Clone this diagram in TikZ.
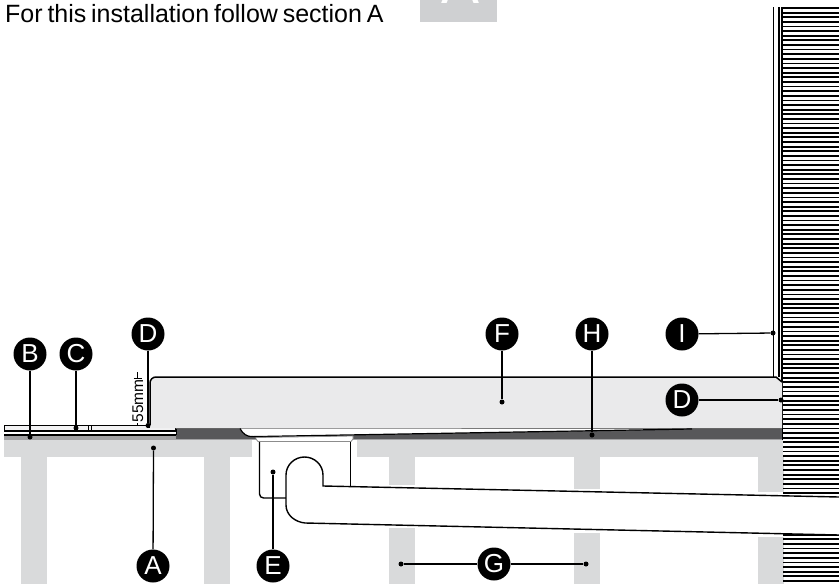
\documentclass[tikz,border=0pt]{standalone}
\usepackage{fontspec}
\setmainfont{Liberation Sans}
\definecolor{joist}{HTML}{D9DADB}
\definecolor{tray}{HTML}{EAEAEB}
\definecolor{dark}{HTML}{58585A}
\definecolor{bed}{HTML}{A2A2A4}
\definecolor{badge}{HTML}{CFD0D2}
\tikzset{
  lbl/.style={circle,fill=black,minimum size=33pt,inner sep=0pt,text=white,font=\fontsize{26}{26}\selectfont},
  lead/.style={draw=black,line width=1.3pt},
  tip/.style={circle,fill=black,minimum size=5pt,inner sep=0pt},
  outl/.style={draw=black,line width=1.4pt}
}
\begin{document}
\begin{tikzpicture}[x=1pt,y=-1pt]
\useasboundingbox (0,0) rectangle (839,584);
% title
\node[anchor=base west,inner sep=0pt,font=\fontsize{25}{25}\selectfont] (title) at (5,22.6) {\spaceskip=4.8pt For this installation follow section A};
\begin{scope}
\clip (420,0) rectangle (497,22);
\fill[badge] (420,0) rectangle (497,22);
\node[anchor=base,inner sep=0pt,text=white,font=\fontsize{57}{57}\selectfont] (sect) at (461,3.5) {A};
\end{scope}
% joists
\fill[joist] (4,440) rectangle (252,457);
\fill[joist] (357,440) rectangle (783,457);
\fill[joist] (21,457) rectangle (47,584);
\fill[joist] (204,457) rectangle (230,584);
\foreach \x/\a/\b in {389/485/528,574/489/533,758/492/537}{
  \fill[joist] (\x,457) rectangle (\x+25.5,\a);
  \fill[joist] (\x,\b) rectangle (\x+25.5,584);
}
% wall hatch
\foreach \i in {0,...,125}{
  \draw[black,line width=1.8pt] (783,8+\i*4.62) -- (839,8+\i*4.62);
}
\draw[black,line width=1.5pt] (773.5,7) -- (773.5,377);
\draw[black,line width=1.5pt] (779,7) -- (779,377);
\draw[black,line width=1.8pt] (781.8,7) -- (781.8,440);
% bed layers
\fill[dark] (176,428) rectangle (782,439.5);
\fill[bed] (176,439) rectangle (782,440);
\fill[bed] (4,435) rectangle (176,440);
\fill[white] (4,431) rectangle (176,435);
\draw[black,line width=1.1pt] (4,435) -- (176,435);
\draw[black,line width=1pt] (176,431) -- (176,435);
% tile
\draw[fill=tray!60!white,draw=black,line width=1.1pt] (4.5,425.5) rectangle (176,431);
\draw[black,line width=.6pt] (88.5,425.5) -- (88.5,431) (91.5,425.5) -- (91.5,431);
\fill[black] (147,425) rectangle (176.5,427.5);
% tray
\fill[tray] (156,377) -- (776,377) -- (782,382) -- (782,428) -- (150,428) -- (150,383) arc[start angle=180,end angle=270,radius=6];
\draw[black,line width=1.5pt] (150,425) -- (150,383) arc[start angle=180,end angle=270,radius=6] -- (776,377) -- (782,382);
\draw[black!60,line width=.8pt] (176,428) -- (782,428);
% falling wedge
\fill[white] (240,428.5) .. controls (243,434) and (247,437) .. (253,436.6) -- (692,429) -- cycle;
\draw[black,line width=1.2pt] (240,428.5) .. controls (243,434) and (247,437) .. (253,436.6) -- (692,429);
% flange
\draw[fill=white,draw=black!45,line width=.8pt] (256,437.5) -- (353,436) -- (353,439) -- (351,441.5) -- (258,441.5) -- (256,439) -- cycle;
\fill[white] (253,442) rectangle (357,486);
% drain body
\draw[outl] (259.5,442) -- (259.5,494) arc[start angle=180,end angle=90,radius=4] -- (286,498);
\draw[outl] (350.5,442) -- (350.5,487);
% pipe
\fill[white] (286,475) arc[start angle=180,end angle=360,x radius=18.5,y radius=18] -- (323,486) -- (839,497) -- (839,535) -- (305,523) .. controls (295,522) and (286,515) .. (286,505) -- cycle;
\draw[outl] (839,497) -- (323,486) -- (323,475) arc[start angle=360,end angle=180,x radius=18.5,y radius=18] -- (286,505) .. controls (286,515) and (295,522) .. (305,523) -- (839,535);
% dimension
\node[rotate=90,anchor=base,inner sep=0pt,font=\fontsize{15.5}{15.5}\selectfont] (dim) at (143,401) {55mm};
\draw[black,line width=.9pt] (137.5,425) -- (137.5,423) (133.5,378) -- (142,378) (137.5,378) -- (137.5,372);
% labels and leaders
\node[lbl] (A) at (153,566) {A};
\node[lbl] (B) at (30,354) {B};
\node[lbl] (C) at (76,354) {C};
\node[lbl] (D) at (148,334) {D};
\node[lbl] (E) at (273,566) {E};
\node[lbl] (F) at (502,334) {F};
\node[lbl] (G) at (494,564) {G};
\node[lbl] (H) at (592,334) {H};
\node[lbl] (I) at (682,334) {I};
\node[lbl] (D2) at (682,400) {D};
\node[tip] (ta) at (153.5,448) {};
\node[tip] (tb) at (30,437) {};
\node[tip] (tc) at (76,428) {};
\node[tip] (td) at (148,425.5) {};
\node[tip] (te) at (273,472) {};
\node[tip] (tf) at (502,402) {};
\node[tip] (tg1) at (401,564) {};
\node[tip] (tg2) at (586,564) {};
\node[tip] (th) at (592,435) {};
\node[tip] (ti) at (773,333) {};
\node[tip] (td2) at (781,400) {};
\draw[lead] (A) -- (ta);
\draw[lead] (B) -- (tb);
\draw[lead] (C) -- (tc);
\draw[lead] (D) -- (td);
\draw[lead] (E) -- (te);
\draw[lead] (F) -- (tf);
\draw[lead] (G) -- (tg1);
\draw[lead] (G) -- (tg2);
\draw[lead] (H) -- (th);
\draw[lead] (I) -- (ti);
\draw[lead] (D2) -- (td2);
\end{tikzpicture}
\end{document}
